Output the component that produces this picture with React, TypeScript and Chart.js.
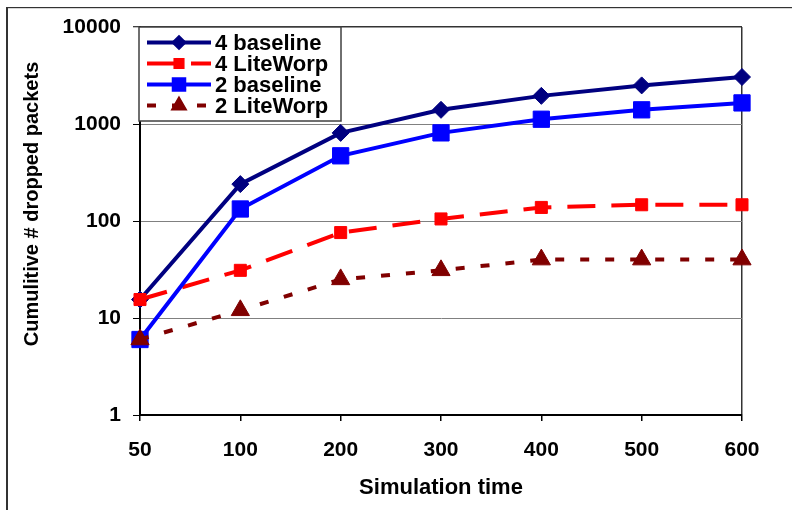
import React, { useEffect, useRef } from 'react';
import { Chart, registerables } from 'chart.js';
import { drawPoint } from 'chart.js/helpers';

Chart.register(...registerables);

const xLabels = ['50', '100', '200', '300', '400', '500', '600'];
const yTickValues = [1, 10, 100, 1000, 10000];
const seriesNames = ['4 baseline', '4 LiteWorp', '2 baseline', '2 LiteWorp'];
const baseline4 = [15.5, 240, 810, 1400, 1950, 2500, 3050];
const liteworp4 = [15.5, 31, 76, 105, 138, 147, 147];
const baseline2 = [6, 133, 470, 810, 1120, 1400, 1650];
const liteworp2 = [6, 12, 25, 31, 40, 40, 40];
const xTitle = 'Simulation time';
const yTitle = 'Cumulitive # dropped packets';

const FONT = '"Liberation Sans", Arial, Helvetica, sans-serif';

export default function App() {
  const ref = useRef<HTMLCanvasElement>(null);

  useEffect(() => {
    const canvas = ref.current;
    if (!canvas) return;

    const framePlugin = {
      id: 'frame',
      beforeDraw(chart: any) {
        const ctx = chart.ctx;
        ctx.save();
        ctx.fillStyle = '#333333';
        ctx.fillRect(6, 7, 786, 1.2);
        ctx.fillRect(6, 7, 2, 503);
        ctx.restore();
      },
    };

    const yTitlePlugin = {
      id: 'yTitleDraw',
      afterDraw(chart: any) {
        const { ctx, chartArea } = chart;
        ctx.save();
        ctx.translate(chartArea.left - 102, (chartArea.top + chartArea.bottom) / 2 - 17);
        ctx.rotate(-Math.PI / 2);
        ctx.font = `bold 20px ${FONT}`;
        ctx.fillStyle = '#000';
        ctx.textAlign = 'center';
        ctx.textBaseline = 'alphabetic';
        ctx.fillText(yTitle, 0, 0);
        ctx.restore();
      },
    };

    const legendPlugin = {
      id: 'boxLegend',
      afterDraw(chart: any) {
        const { ctx, chartArea } = chart;
        const x0 = chartArea.left - 1;
        const y0 = chartArea.top;
        const w = 202;
        const h = 94;
        ctx.save();
        ctx.fillStyle = '#ffffff';
        ctx.fillRect(x0, y0, w, h);
        ctx.strokeStyle = '#404040';
        ctx.lineWidth = 1.5;
        ctx.strokeRect(x0, y0, w, h);
        chart.data.datasets.forEach((ds: any, i: number) => {
          const cy = y0 + 15.5 + i * 21;
          const lx0 = x0 + 8;
          const lx1 = x0 + 72;
          ctx.save();
          ctx.strokeStyle = ds.borderColor;
          ctx.lineWidth = ds.borderWidth;
          ctx.setLineDash(ds.borderDash || []);
          ctx.lineDashOffset = ds.legendDashOffset || 0;
          ctx.beginPath();
          ctx.moveTo(lx0, cy);
          ctx.lineTo(lx1, cy);
          ctx.stroke();
          ctx.restore();
          ctx.save();
          ctx.fillStyle = ds.pointBackgroundColor;
          ctx.strokeStyle = ds.pointBorderColor;
          ctx.setLineDash([]);
          drawPoint(ctx, { pointStyle: ds.pointStyle, radius: ds.pointRadius * 0.8, rotation: 0, borderWidth: 1 } as any, x0 + 40, cy);
          ctx.restore();
          ctx.fillStyle = '#000';
          ctx.font = `bold 22px ${FONT}`;
          ctx.textAlign = 'left';
          ctx.textBaseline = 'middle';
          ctx.fillText(ds.label, x0 + 76, cy + 1);
        });
        ctx.restore();
      },
    };

    const chart = new Chart(canvas, {
      type: 'line',
      data: {
        labels: xLabels,
        datasets: [
          {
            label: seriesNames[0],
            data: baseline4,
            borderColor: '#000080',
            backgroundColor: '#000080',
            borderWidth: 4,
            pointStyle: 'rectRot',
            pointRadius: 8.5,
            pointBackgroundColor: '#000080',
            pointBorderColor: '#000080',
            pointBorderWidth: 1,
            tension: 0,
            clip: false,
            order: 3,
          } as any,
          {
            label: seriesNames[1],
            data: liteworp4,
            borderColor: '#FF0000',
            backgroundColor: '#FF0000',
            borderWidth: 4,
            borderDash: [28, 16],
            legendDashOffset: 0,
            pointStyle: 'rect',
            pointRadius: 8.5,
            pointBackgroundColor: '#FF0000',
            pointBorderColor: '#FF0000',
            pointBorderWidth: 1,
            tension: 0,
            clip: false,
            order: 2,
          } as any,
          {
            label: seriesNames[2],
            data: baseline2,
            borderColor: '#0000FF',
            backgroundColor: '#0000FF',
            borderWidth: 4,
            pointStyle: 'rect',
            pointRadius: 11.5,
            pointBackgroundColor: '#0000FF',
            pointBorderColor: '#0000FF',
            pointBorderWidth: 1,
            tension: 0,
            clip: false,
            order: 1,
          } as any,
          {
            label: seriesNames[3],
            data: liteworp2,
            borderColor: '#800000',
            backgroundColor: '#800000',
            borderWidth: 4,
            borderDash: [9, 16],
            legendDashOffset: 0,
            pointStyle: 'triangle',
            pointRadius: 10.5,
            pointBackgroundColor: '#800000',
            pointBorderColor: '#800000',
            pointBorderWidth: 1,
            tension: 0,
            clip: false,
            order: 0,
          } as any,
        ],
      },
      options: {
        animation: false,
        responsive: false,
        events: [],
        layout: { padding: { top: 27, right: 50, left: 0, bottom: 0 } },
        plugins: {
          legend: { display: false },
          tooltip: { enabled: false },
          title: { display: false },
        },
        scales: {
          x: {
            type: 'category',
            offset: false,
            grid: {
              offset: false,
              drawOnChartArea: true,
              color: (c: any) => (c.index === xLabels.length - 1 ? '#333333' : 'rgba(0,0,0,0)'),
              lineWidth: 1.5,
              tickColor: '#000',
              tickLength: 6,
              tickWidth: 1.5,
            },
            border: { display: true, color: '#000', width: 2 },
            ticks: {
              font: { family: FONT, size: 21, weight: 'bold' },
              color: '#000',
              padding: 17,
              maxRotation: 0,
              autoSkip: false,
            },
            title: {
              display: true,
              text: xTitle,
              font: { family: FONT, size: 22, weight: 'bold' },
              color: '#000',
              padding: { top: 0, bottom: 9 },
            },
            afterFit: (s: any) => {
              s.height = 95;
            },
          },
          y: {
            type: 'logarithmic',
            min: 1,
            max: 10000,
            afterBuildTicks: (s: any) => {
              s.ticks = yTickValues.map((v) => ({ value: v }));
            },
            grid: {
              color: (c: any) => (c.tick && c.tick.value === 10000 ? '#333333' : '#808080'),
              lineWidth: (c: any) => (c.tick && c.tick.value === 10000 ? 1.5 : 1),
              tickColor: '#000',
              tickLength: 7,
              tickWidth: 1,
            },
            border: { display: true, color: '#000', width: 2 },
            ticks: {
              callback: (v: any) => String(v),
              font: { family: FONT, size: 21, weight: 'bold' },
              color: '#000',
              padding: 12,
            },
            afterFit: (s: any) => {
              s.width = 140;
            },
          },
        },
      } as any,
      plugins: [framePlugin, yTitlePlugin, legendPlugin],
    });

    return () => {
      chart.destroy();
    };
  }, []);

  return (
    <div style={{ position: 'absolute', left: 0, top: 0, width: 792, height: 510, background: '#fff' }}>
      <canvas ref={ref} width={792} height={510} style={{ display: 'block' }} />
    </div>
  );
}
